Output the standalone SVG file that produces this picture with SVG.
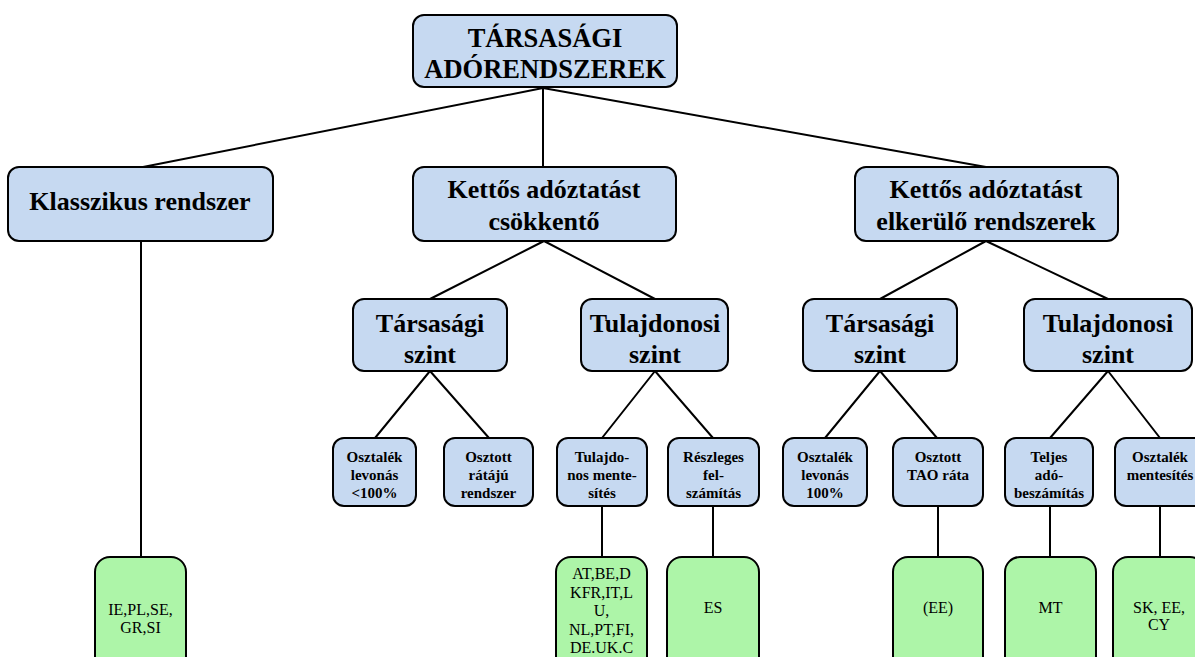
<svg xmlns="http://www.w3.org/2000/svg" width="1195" height="657" viewBox="0 0 1195 657" font-family="'Liberation Serif', 'DejaVu Serif', serif">
<style>
.b{fill:#c6d9f1;stroke:#000;stroke-width:2}
.g{fill:#adf5a8;stroke:#000;stroke-width:2}
.c{stroke:#000;stroke-width:2;fill:none}
text{text-anchor:middle;fill:#000}
.t1{font-size:26.5px;font-weight:bold}
.t2{font-size:26px;font-weight:bold}
.t3{font-size:26px;font-weight:bold}
.t4{font-size:15px;font-weight:bold}
.t5{font-size:16px}
</style>
<rect width="1195" height="657" fill="#fff"/>
<g id="connectors">
<path class="c" d="M543,88 L143,167 M543,88 L543,167 M543,88 L986,167"/>
<path class="c" d="M141,241 L141,557"/>
<path class="c" d="M544,241 L430,299 M544,241 L655,299 M986,241 L880,299 M986,241 L1108,299"/>
<path class="c" d="M430,371 L375,438 M430,371 L489,438 M655,371 L602,438 M655,371 L713,438"/>
<path class="c" d="M880,371 L825,438 M880,371 L937,438 M1108,371 L1050,438 M1108,371 L1160,438"/>
<path class="c" d="M602,506 L602,557 M713,506 L713,557 M938,506 L938,557 M1050,506 L1050,557 M1160,506 L1160,557"/>
</g>
<g id="n-root"><rect class="b" x="413" y="15" width="264" height="72" rx="11"/><text class="t1" x="545" y="47">TÁRSASÁGI</text><text class="t1" x="545" y="78">ADÓRENDSZEREK</text></g>
<g id="n-klassz"><rect class="b" x="8" y="167" width="265" height="74" rx="11"/><text class="t2" x="140" y="210">Klasszikus rendszer</text></g>
<g id="n-csokk"><rect class="b" x="413" y="167" width="263" height="74" rx="11"/><text class="t2" x="544" y="198">Kettős adóztatást</text><text class="t2" x="544" y="230">csökkentő</text></g>
<g id="n-elker"><rect class="b" x="855" y="167" width="263" height="74" rx="11"/><text class="t2" x="986" y="198">Kettős adóztatást</text><text class="t2" x="986" y="230">elkerülő rendszerek</text></g>
<g id="n-tars1"><rect class="b" x="353" y="299" width="154" height="72" rx="11"/><text class="t3" x="430" y="332">Társasági</text><text class="t3" x="430" y="363">szint</text></g>
<g id="n-tul1"><rect class="b" x="581" y="299" width="147" height="72" rx="11"/><text class="t3" x="655" y="332">Tulajdonosi</text><text class="t3" x="655" y="363">szint</text></g>
<g id="n-tars2"><rect class="b" x="803" y="299" width="154" height="72" rx="11"/><text class="t3" x="880" y="332">Társasági</text><text class="t3" x="880" y="363">szint</text></g>
<g id="n-tul2"><rect class="b" x="1024" y="299" width="168" height="72" rx="11"/><text class="t3" x="1108" y="332">Tulajdonosi</text><text class="t3" x="1108" y="363">szint</text></g>
<g id="n-l1"><rect class="b" x="333" y="438" width="83" height="68" rx="11"/><text class="t4" x="374.5" y="462">Osztalék</text><text class="t4" x="374.5" y="480">levonás</text><text class="t4" x="374.5" y="498">&lt;100%</text></g>
<g id="n-l2"><rect class="b" x="444" y="438" width="89" height="68" rx="11"/><text class="t4" x="488.5" y="462">Osztott</text><text class="t4" x="488.5" y="480">rátájú</text><text class="t4" x="488.5" y="498">rendszer</text></g>
<g id="n-l3"><rect class="b" x="557" y="438" width="90" height="68" rx="11"/><text class="t4" x="602" y="462">Tulajdo-</text><text class="t4" x="602" y="480">nos mente-</text><text class="t4" x="602" y="498">sítés</text></g>
<g id="n-l4"><rect class="b" x="668" y="438" width="91" height="68" rx="11"/><text class="t4" x="713.5" y="462">Részleges</text><text class="t4" x="713.5" y="480">fel-</text><text class="t4" x="713.5" y="498">számítás</text></g>
<g id="n-l5"><rect class="b" x="783" y="438" width="84" height="68" rx="11"/><text class="t4" x="825" y="462">Osztalék</text><text class="t4" x="825" y="480">levonás</text><text class="t4" x="825" y="498">100%</text></g>
<g id="n-l6"><rect class="b" x="893" y="438" width="90" height="68" rx="11"/><text class="t4" x="938" y="462">Osztott</text><text class="t4" x="938" y="480">TAO ráta</text></g>
<g id="n-l7"><rect class="b" x="1005" y="438" width="88" height="68" rx="11"/><text class="t4" x="1049" y="462">Teljes</text><text class="t4" x="1049" y="480">adó-</text><text class="t4" x="1049" y="498">beszámítás</text></g>
<g id="n-l8"><rect class="b" x="1115" y="438" width="90" height="68" rx="11"/><text class="t4" x="1160" y="462">Osztalék</text><text class="t4" x="1160" y="480">mentesítés</text></g>
<g id="n-g1"><rect class="g" x="95" y="557" width="91" height="115" rx="15"/><text class="t5" x="140.5" y="615">IE,PL,SE,</text><text class="t5" x="140.5" y="633">GR,SI</text></g>
<g id="n-g2"><rect class="g" x="556" y="557" width="91" height="115" rx="15"/><text class="t5" x="601.5" y="579">AT,BE,D</text><text class="t5" x="601.5" y="598">KFR,IT,L</text><text class="t5" x="601.5" y="616">U,</text><text class="t5" x="601.5" y="635">NL,PT,FI,</text><text class="t5" x="601.5" y="653">DE.UK.C</text></g>
<g id="n-g3"><rect class="g" x="667" y="557" width="92" height="115" rx="15"/><text class="t5" x="713" y="613">ES</text></g>
<g id="n-g4"><rect class="g" x="893" y="557" width="90" height="115" rx="15"/><text class="t5" x="938" y="613">(EE)</text></g>
<g id="n-g5"><rect class="g" x="1005" y="557" width="91" height="115" rx="15"/><text class="t5" x="1050.5" y="613">MT</text></g>
<g id="n-g6"><rect class="g" x="1113" y="557" width="92" height="115" rx="15"/><text class="t5" x="1159" y="613">SK, EE,</text><text class="t5" x="1159" y="630">CY</text></g>
</svg>
